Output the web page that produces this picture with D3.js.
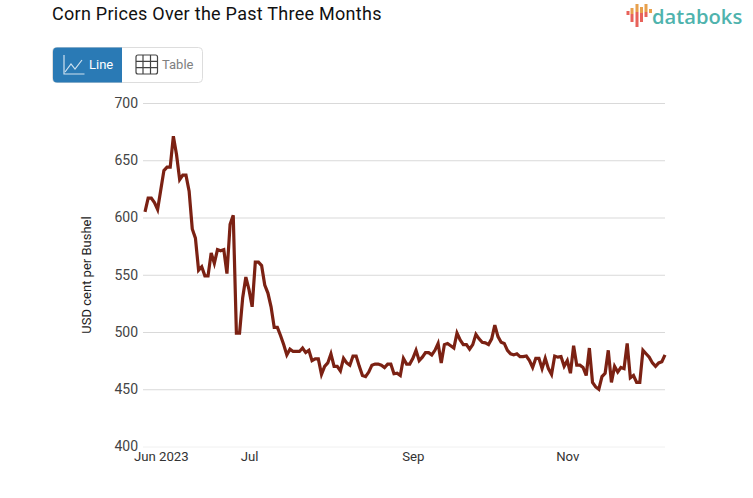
<!DOCTYPE html>
<html><head><meta charset="utf-8">
<script src="https://cdn.jsdelivr.net/npm/d3@7/dist/d3.min.js"></script>
<style>html,body{margin:0;padding:0;background:#fff}svg{display:block;font-family:Roboto,sans-serif}</style>
</head><body><svg id="c" width="753" height="498"></svg>
<script>
const prices = [605,617,617,613,607,624,641,644,644,671,
655,633,637,637,623,590,582,554,557,549,549,569,560,572,571,572,551,594,602,499,499,530,548,537,522,561,561,558,541,534,522,504,504,497,489,480,485,
483,483,483,486,482,484,475,476.5,476.5,463,470,473,481,470,470,466,477,473,471,479,479,470,462,461,465,471,472,472,471,469,472,472,463.5,464,462,477,472,472,477,
484,475,478,482,482,480,484,490,473,489,490,488,486,499,493,489,489,485,489,498,494,491,490.5,489,494,506,496,491,490,484,481,480,481,478.5,478.5,479,475,469,
477,477,468,477,468,463,479,478,478.5,470,475,464,488,471,471,469,462,486,456,452,450,461,464,484,456,470,465,469,468,490,460,462,456,456,484,481,478,473,470,473,474,480];
const yTicks = [400,450,500,550,600,650,700];
const xTickIndex = [5,33,85,134];
const xTickLabels = ["Jun 2023","Jul","Sep","Nov"];

const svg = d3.select("#c");
const x = d3.scaleLinear().domain([0,prices.length-1]).range([145,665]);
const y = d3.scaleLinear().domain([400,700]).range([446.5,103]);

svg.append("text").attr("x",52).attr("y",20).attr("font-size",18).attr("letter-spacing",0.27).attr("fill","#111").text("Corn Prices Over the Past Three Months");

// logo
const lg = svg.append("g");
const barDefs = [[626.5,11,3,4,"#e8625a"],[630.5,8,3,6,"#e8a04c"],[630.5,14,3,8,"#e8625a"],[635.5,4,3,8,"#e8a04c"],[635.5,12,3,15,"#e8625a"],[640,7,3,6,"#e8a04c"],[640,13,3,9,"#e8625a"],[644.5,4,3,8,"#e8a04c"],[644.5,12,3,5,"#e8625a"],[649,9,3,4,"#e8a04c"]];
lg.selectAll("rect").data(barDefs).join("rect").attr("x",d=>d[0]).attr("y",d=>d[1]).attr("width",d=>d[2]).attr("height",d=>d[3]).attr("fill",d=>d[4]);
lg.append("text").attr("x",652).attr("y",24).attr("font-family","'Open Sans',sans-serif").attr("font-size",20.2).attr("font-weight",600).attr("fill","#4fb3ad").text("databoks");

// buttons
svg.append("rect").attr("x",52.5).attr("y",47.5).attr("width",150).attr("height",35).attr("rx",4).attr("fill","#fff").attr("stroke","#ddd");
svg.append("path").attr("d","M57,47.5H122V82.5H57a4,4 0 0 1-4-4V51.5a4,4 0 0 1 4-4Z").attr("fill","#2a7ab5");
svg.append("path").attr("d","M64,55V74H84.5").attr("fill","none").attr("stroke","#cfe2f0").attr("stroke-width",1.2);
svg.append("path").attr("d","M65,72L71,64L75,69L82,60").attr("fill","none").attr("stroke","#cfe2f0").attr("stroke-width",1.2);
svg.append("text").attr("x",89).attr("y",69).attr("font-size",13).attr("fill","#fff").text("Line");
svg.append("rect").attr("x",136).attr("y",55).attr("width",21.5).attr("height",19).attr("rx",2).attr("fill","none").attr("stroke","#444").attr("stroke-width",1.2);
svg.append("path").attr("d","M143,55V74M150.5,55V74M136,61.3H157.5M136,67.6H157.5").attr("stroke","#444").attr("stroke-width",1.2);
svg.append("text").attr("x",162).attr("y",69).attr("font-size",13).attr("fill","#808080").text("Table");

// axes
const ya = svg.append("g").attr("transform","translate(143,0)")
  .call(d3.axisLeft(y).tickValues(yTicks).tickSize(-522).tickPadding(5));
ya.select(".domain").remove();
ya.selectAll(".tick line").attr("stroke",d=>d===400?"#f0f0f0":"#d9d9d9");
ya.selectAll(".tick text").attr("font-size",14).attr("fill","#444").attr("font-family","Roboto");

const xa = svg.append("g").attr("transform","translate(0,447)")
  .call(d3.axisBottom(x).tickValues(xTickIndex).tickSize(0).tickPadding(5).tickFormat((d,i)=>xTickLabels[i]));
xa.select(".domain").remove();
xa.selectAll(".tick text").attr("font-size",13.2).attr("fill","#333").attr("font-family","Roboto");

svg.append("text").attr("transform","translate(91,275) rotate(-90)").attr("text-anchor","middle").attr("font-size",13).attr("fill","#222").text("USD cent per Bushel");

svg.append("path").datum(prices)
  .attr("d",d3.line().x((d,i)=>x(i)).y(d=>y(d)))
  .attr("fill","none").attr("stroke","#7b2113").attr("stroke-width",3.2).attr("stroke-linejoin","miter");
</script></body></html>
